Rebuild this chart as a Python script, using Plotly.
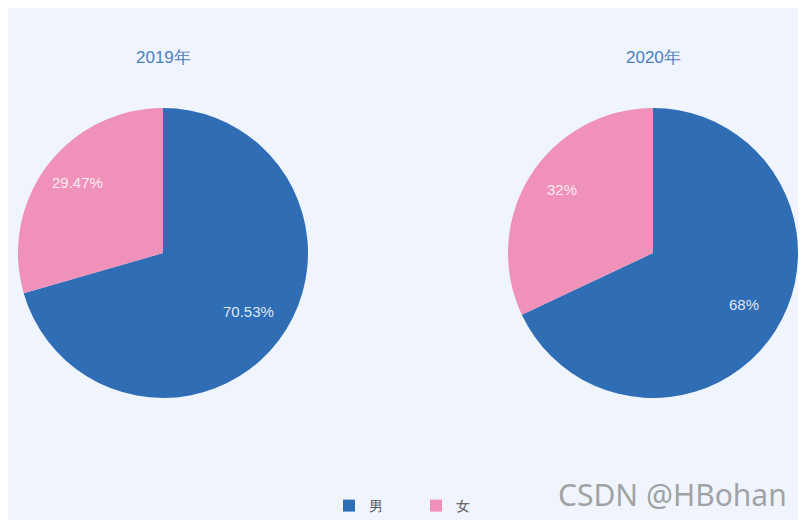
import math
import plotly.graph_objects as go

W, H = 806, 520
OFF = 8  # page margin offset
labels = ["男", "女"]
years = ["2019年", "2020年"]
values_2019 = [70.53, 29.47]
values_2020 = [68, 32]
value_text_2019 = ["70.53%", "29.47%"]
value_text_2020 = ["68%", "32%"]
colors = ["#2f6db5", "#f091b9"]

fig = go.Figure()

R = 145
CY = 253 - OFF


def dom(cx, cy, r):
    return dict(x=[(cx - r) / W, (cx + r) / W], y=[1 - (cy + r) / H, 1 - (cy - r) / H])


for vals, texts, cx, show in [(values_2019, value_text_2019, 163 - OFF, True),
                              (values_2020, value_text_2020, 653 - OFF, False)]:
    fig.add_trace(go.Pie(
        labels=labels, values=vals, sort=False, direction="clockwise", rotation=0,
        marker=dict(colors=colors, line=dict(width=0)),
        textinfo="none", hoverinfo="label+value", domain=dom(cx, CY, R), showlegend=show,
    ))
    total = sum(vals)
    cum = 0
    for v, t in zip(vals, texts):
        mid = (cum + v / 2) / total * 2 * math.pi
        cum += v
        rr = 0.74 * R
        px = cx + rr * math.sin(mid)
        py = CY - rr * math.cos(mid) - 6
        fig.add_annotation(text=t, x=px / W, y=1 - py / H, xref="paper", yref="paper",
                           xanchor="center", yanchor="middle", showarrow=False,
                           font=dict(size=15, color="rgba(255,255,255,0.85)",
                                     family="Liberation Sans, Arial"))

for t, cx in zip(years, [163 - OFF, 653 - OFF]):
    fig.add_annotation(text=t, x=cx / W, y=1 - (57 - OFF) / H, xref="paper", yref="paper",
                       xanchor="center", yanchor="middle", showarrow=False,
                       font=dict(size=17, color="#4a7fc1", family="Liberation Sans, Arial"))

fig.add_annotation(text="CSDN @HBohan", x=(789 - OFF) / W, y=1 - (494 - OFF) / H,
                   xref="paper", yref="paper", xanchor="right", yanchor="middle",
                   showarrow=False,
                   font=dict(size=30, color="rgba(125,125,125,0.7)", family="Noto Sans, Open Sans"))

fig.update_layout(
    width=W, height=H, margin=dict(l=0, r=0, t=0, b=0),
    paper_bgcolor="#f0f4fc", plot_bgcolor="#f0f4fc",
    legend=dict(orientation="h", x=(416 - OFF) / W, xanchor="center",
                y=1 - (506 - OFF) / H, yanchor="middle",
                font=dict(size=14, color="#555"), entrywidth=42, bgcolor="rgba(0,0,0,0)"),
)
fig.write_html("out.html")
